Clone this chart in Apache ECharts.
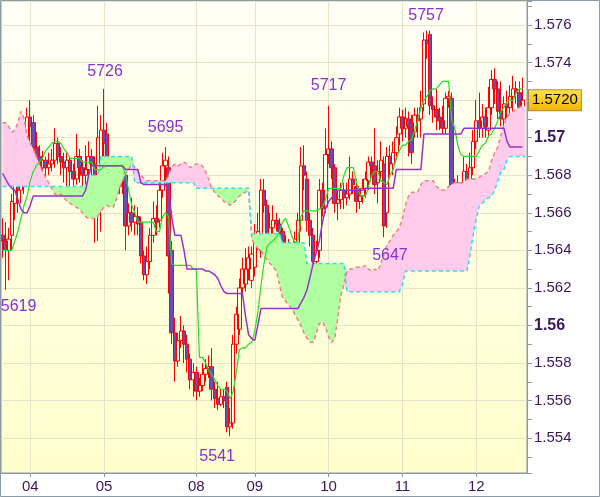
<!DOCTYPE html>
<html><head><meta charset="utf-8">
<script src="https://cdn.jsdelivr.net/npm/echarts@6/dist/echarts.min.js"></script>
<style>html,body{margin:0;padding:0;background:#fff}#c{width:600px;height:497px}</style>
</head><body><div id="c"></div>
<script>
// ---- data (hourly candles) ----
const dayLabels = ['04','05','08','09','10','11','12'];
const dayStartIndex = [9,33,63,82,106,130,154];

const opens = [
1.5648,1.5645,1.5640,1.5648,1.5665,1.5675,1.5672,1.5686,1.5684,1.5711,
1.5708,1.5695,1.5690,1.5684,1.5688,1.5684,1.5686,1.5688,1.5697,1.5690,
1.5687,1.5684,1.5688,1.5682,1.5678,1.5690,1.5684,1.5680,1.5683,1.5690,
1.5686,1.5665,1.5682,1.5704,1.5702,1.5682,1.5675,1.5678,1.5674,1.5679,
1.5680,1.5653,1.5660,1.5655,1.5658,1.5655,1.5637,1.5627,1.5634,1.5648,
1.5657,1.5656,1.5672,1.5685,1.5684,1.5640,1.5596,1.5581,1.5592,1.5597,
1.5590,1.5582,1.5571,1.5575,1.5565,1.5568,1.5574,1.5577,1.5578,1.5566,
1.5561,1.5558,1.5562,1.5567,1.5546,1.5548,1.5590,1.5598,1.5620,1.5622,
1.5630,1.5624,1.5631,1.5646,1.5640,1.5672,1.5664,1.5645,1.5652,1.5656,
1.5654,1.5650,1.5641,1.5642,1.5629,1.5644,1.5644,1.5656,1.5685,1.5678,
1.5656,1.5648,1.5634,1.5640,1.5672,1.5663,1.5691,1.5694,1.5684,1.5665,
1.5667,1.5672,1.5668,1.5670,1.5678,1.5674,1.5666,1.5669,1.5673,1.5677,
1.5687,1.5685,1.5676,1.5682,1.5686,1.5660,1.5690,1.5686,1.5692,1.5702,
1.5711,1.5705,1.5710,1.5708,1.5703,1.5712,1.5710,1.5718,1.5752,1.5755,
1.5717,1.5715,1.5711,1.5709,1.5705,1.5721,1.5721,1.5674,1.5676,1.5661,
1.5668,1.5682,1.5668,1.5684,1.5698,1.5709,1.5705,1.5711,1.5704,1.5716,
1.5731,1.5726,1.5714,1.5710,1.5718,1.5716,1.5722,1.5726,1.5724,1.5716];

const closes = [
1.5645,1.5640,1.5646,1.5666,1.5675,1.5672,1.5686,1.5684,1.5711,1.5706,
1.5695,1.5690,1.5684,1.5688,1.5684,1.5686,1.5688,1.5697,1.5690,1.5687,
1.5684,1.5688,1.5682,1.5678,1.5690,1.5684,1.5680,1.5683,1.5690,1.5686,
1.5660,1.5700,1.5704,1.5697,1.5682,1.5675,1.5678,1.5674,1.5679,1.5676,
1.5653,1.5660,1.5655,1.5658,1.5654,1.5637,1.5627,1.5634,1.5648,1.5657,
1.5655,1.5672,1.5685,1.5688,1.5637,1.5596,1.5581,1.5592,1.5597,1.5590,
1.5582,1.5571,1.5575,1.5565,1.5568,1.5574,1.5577,1.5578,1.5566,1.5561,
1.5558,1.5562,1.5560,1.5546,1.5548,1.5590,1.5606,1.5620,1.5630,1.5630,
1.5636,1.5638,1.5646,1.5650,1.5672,1.5664,1.5645,1.5652,1.5656,1.5654,
1.5650,1.5641,1.5642,1.5629,1.5640,1.5646,1.5656,1.5685,1.5680,1.5656,
1.5648,1.5634,1.5640,1.5672,1.5662,1.5691,1.5694,1.5684,1.5665,1.5667,
1.5672,1.5668,1.5670,1.5678,1.5675,1.5666,1.5669,1.5673,1.5678,1.5687,
1.5685,1.5675,1.5682,1.5688,1.5653,1.5690,1.5686,1.5692,1.5700,1.5711,
1.5705,1.5710,1.5706,1.5692,1.5712,1.5709,1.5716,1.5752,1.5750,1.5717,
1.5715,1.5711,1.5709,1.5705,1.5721,1.5722,1.5674,1.5665,1.5661,1.5668,
1.5682,1.5668,1.5684,1.5698,1.5709,1.5705,1.5711,1.5706,1.5716,1.5731,
1.5726,1.5714,1.5710,1.5718,1.5716,1.5722,1.5726,1.5724,1.5716,1.5720];

const lows = [
1.5636,1.5619,1.5624,1.5640,1.5656,1.5660,1.5665,1.5670,1.5680,1.5698,
1.5690,1.5680,1.5676,1.5678,1.5675,1.5680,1.5682,1.5684,1.5686,1.5680,
1.5676,1.5670,1.5667,1.5665,1.5675,1.5676,1.5672,1.5675,1.5678,1.5675,
1.5644,1.5645,1.5650,1.5690,1.5676,1.5666,1.5668,1.5668,1.5670,1.5670,
1.5640,1.5648,1.5650,1.5648,1.5648,1.5633,1.5624,1.5622,1.5630,1.5644,
1.5648,1.5652,1.5668,1.5676,1.5617,1.5590,1.5570,1.5578,1.5588,1.5580,
1.5575,1.5566,1.5562,1.5560,1.5562,1.5565,1.5570,1.5572,1.5560,1.5556,
1.5555,1.5557,1.5556,1.5543,1.5541,1.5545,1.5585,1.5595,1.5615,1.5618,
1.5624,1.5620,1.5626,1.5640,1.5636,1.5660,1.5642,1.5640,1.5648,1.5650,
1.5644,1.5638,1.5636,1.5625,1.5628,1.5638,1.5640,1.5650,1.5672,1.5650,
1.5642,1.5628,1.5630,1.5636,1.5658,1.5660,1.5686,1.5678,1.5660,1.5656,
1.5662,1.5662,1.5664,1.5667,1.5670,1.5660,1.5662,1.5665,1.5668,1.5672,
1.5680,1.5670,1.5665,1.5678,1.5647,1.5652,1.5680,1.5680,1.5688,1.5696,
1.5698,1.5700,1.5690,1.5686,1.5700,1.5700,1.5700,1.5714,1.5742,1.5712,
1.5708,1.5704,1.5704,1.5702,1.5702,1.5716,1.5670,1.5660,1.5652,1.5650,
1.5662,1.5660,1.5664,1.5680,1.5694,1.5700,1.5700,1.5700,1.5700,1.5712,
1.5718,1.5710,1.5706,1.5706,1.5710,1.5712,1.5714,1.5718,1.5712,1.5712];

const highs = [
1.5657,1.5655,1.5652,1.5670,1.5682,1.5685,1.5692,1.5698,1.5716,1.5720,
1.5712,1.5703,1.5696,1.5693,1.5690,1.5692,1.5694,1.5705,1.5700,1.5695,
1.5692,1.5692,1.5690,1.5686,1.5702,1.5694,1.5688,1.5696,1.5698,1.5694,
1.5690,1.5717,1.5712,1.5726,1.5708,1.5690,1.5684,1.5684,1.5686,1.5684,
1.5684,1.5665,1.5668,1.5664,1.5663,1.5658,1.5640,1.5642,1.5652,1.5666,
1.5664,1.5676,1.5692,1.5695,1.5690,1.5645,1.5604,1.5596,1.5605,1.5600,
1.5595,1.5585,1.5580,1.5578,1.5572,1.5580,1.5582,1.5584,1.5588,1.5570,
1.5570,1.5566,1.5566,1.5570,1.5556,1.5595,1.5610,1.5625,1.5636,1.5641,
1.5642,1.5642,1.5654,1.5660,1.5678,1.5678,1.5667,1.5660,1.5664,1.5660,
1.5657,1.5652,1.5648,1.5646,1.5644,1.5650,1.5660,1.5695,1.5696,1.5682,
1.5660,1.5652,1.5645,1.5678,1.5676,1.5705,1.5717,1.5698,1.5686,1.5672,
1.5676,1.5676,1.5676,1.5690,1.5682,1.5678,1.5673,1.5678,1.5682,1.5690,
1.5690,1.5705,1.5688,1.5698,1.5690,1.5695,1.5696,1.5698,1.5706,1.5716,
1.5715,1.5716,1.5714,1.5712,1.5716,1.5716,1.5725,1.5756,1.5757,1.5757,
1.5722,1.5726,1.5716,1.5717,1.5724,1.5725,1.5724,1.5678,1.5680,1.5676,
1.5690,1.5686,1.5692,1.5704,1.5720,1.5724,1.5718,1.5716,1.5727,1.5736,
1.5737,1.5730,1.5730,1.5722,1.5725,1.5728,1.5733,1.5730,1.5730,1.5732];

const tenkan = [
1.5640,1.5640,1.5640,1.5640,1.5645,1.5650,1.5657,1.5664,1.5669,1.5677,
1.5682,1.5685,1.5687,1.5689,1.5693,1.5695,1.5697,1.5698,1.5698,1.5697,
1.5694,1.5692,1.5689,1.5689,1.5689,1.5689,1.5687,1.5687,1.5687,1.5687,
1.5683,1.5683,1.5683,1.5685,1.5685,1.5685,1.5685,1.5685,1.5685,1.5685,
1.5680,1.5672,1.5664,1.5660,1.5655,1.5655,1.5655,1.5655,1.5655,1.5655,
1.5650,1.5650,1.5658,1.5660,1.5658,1.5633,1.5632,1.5632,1.5632,1.5632,
1.5632,1.5632,1.5630,1.5630,1.5583,1.5583,1.5580,1.5576,1.5574,1.5571,
1.5568,1.5566,1.5566,1.5565,1.5561,1.5565,1.5575,1.5587,1.5588,1.5588,
1.5590,1.5591,1.5597,1.5607,1.5621,1.5633,1.5642,1.5644,1.5645,1.5647,
1.5650,1.5655,1.5657,1.5653,1.5648,1.5644,1.5645,1.5658,1.5661,1.5661,
1.5661,1.5661,1.5661,1.5662,1.5663,1.5667,1.5673,1.5673,1.5673,1.5673,
1.5673,1.5680,1.5684,1.5684,1.5684,1.5677,1.5670,1.5669,1.5669,1.5674,
1.5680,1.5682,1.5682,1.5677,1.5676,1.5675,1.5680,1.5683,1.5689,1.5693,
1.5696,1.5696,1.5698,1.5699,1.5704,1.5709,1.5716,1.5720,1.5722,1.5725,
1.5726,1.5726,1.5728,1.5730,1.5730,1.5730,1.5710,1.5705,1.5696,1.5691,
1.5690,1.5690,1.5690,1.5690,1.5690,1.5693,1.5696,1.5697,1.5701,1.5702,
1.5705,1.5709,1.5714,1.5716,1.5719,1.5720,1.5720,1.5724,1.5726,1.5726];

const kijun = [
1.5681,1.5678,1.5675,1.5673,1.5672,1.5667,1.5662,1.5660,1.5660,1.5664,
1.5669,1.5669,1.5669,1.5669,1.5669,1.5669,1.5669,1.5669,1.5669,1.5669,
1.5669,1.5669,1.5669,1.5669,1.5669,1.5669,1.5669,1.5672,1.5680,1.5685,
1.5685,1.5685,1.5685,1.5685,1.5685,1.5685,1.5685,1.5685,1.5685,1.5685,
1.5683,1.5683,1.5683,1.5683,1.5683,1.5676,1.5675,1.5675,1.5675,1.5675,
1.5675,1.5675,1.5675,1.5675,1.5671,1.5658,1.5648,1.5648,1.5648,1.5640,
1.5630,1.5630,1.5630,1.5630,1.5630,1.5630,1.5629,1.5629,1.5628,1.5627,
1.5625,1.5621,1.5618,1.5617,1.5617,1.5617,1.5617,1.5617,1.5617,1.5605,
1.5595,1.5593,1.5592,1.5600,1.5609,1.5609,1.5609,1.5609,1.5609,1.5609,
1.5609,1.5609,1.5609,1.5609,1.5609,1.5609,1.5609,1.5612,1.5615,1.5619,
1.5626,1.5633,1.5639,1.5645,1.5655,1.5662,1.5666,1.5668,1.5670,1.5672,
1.5672,1.5672,1.5672,1.5672,1.5672,1.5672,1.5672,1.5672,1.5673,1.5673,
1.5673,1.5673,1.5673,1.5673,1.5673,1.5673,1.5673,1.5673,1.5683,1.5683,
1.5683,1.5683,1.5683,1.5683,1.5683,1.5683,1.5683,1.5702,1.5702,1.5702,
1.5702,1.5702,1.5702,1.5702,1.5702,1.5702,1.5702,1.5702,1.5702,1.5702,
1.5705,1.5705,1.5705,1.5705,1.5705,1.5705,1.5705,1.5705,1.5705,1.5705,
1.5705,1.5705,1.5705,1.5705,1.5698,1.5695,1.5695,1.5695,1.5695,1.5695];

const spanA = [
1.5708,1.5708,1.5706,1.5703,1.5704,1.5708,1.5714,1.5710,1.5701,1.5697,
1.5694,1.5690,1.5686,1.5682,1.5679,1.5676,1.5673,1.5670,1.5669,1.5670,
1.5668,1.5666,1.5665,1.5664,1.5663,1.5662,1.5660,1.5658,1.5657,1.5657,
1.5657,1.5658,1.5661,1.5663,1.5664,1.5663,1.5663,1.5667,1.5673,1.5677,
1.5681,1.5683,1.5686,1.5684,1.5682,1.5680,1.5678,1.5677,1.5677,1.5677,
1.5677,1.5677,1.5677,1.5677,1.5680,1.5684,1.5686,1.5685,1.5686,1.5687,
1.5686,1.5684,1.5685,1.5686,1.5686,1.5685,1.5682,1.5678,1.5673,1.5671,
1.5669,1.5668,1.5666,1.5665,1.5664,1.5665,1.5667,1.5669,1.5670,1.5671,
1.5672,1.5646,1.5643,1.5641,1.5640,1.5637,1.5635,1.5633,1.5631,1.5629,
1.5622,1.5615,1.5613,1.5611,1.5609,1.5606,1.5603,1.5600,1.5596,1.5593,
1.5591,1.5591,1.5596,1.5601,1.5602,1.5599,1.5594,1.5591,1.5593,1.5604,
1.5616,1.5622,1.5629,1.5630,1.5630,1.5631,1.5631,1.5631,1.5632,1.5630,
1.5629,1.5630,1.5629,1.5633,1.5638,1.5643,1.5645,1.5648,1.5650,1.5652,
1.5657,1.5664,1.5669,1.5671,1.5671,1.5671,1.5675,1.5677,1.5677,1.5677,
1.5677,1.5674,1.5673,1.5672,1.5672,1.5674,1.5675,1.5676,1.5676,1.5676,
1.5676,1.5678,1.5678,1.5678,1.5678,1.5679,1.5680,1.5681,1.5682,1.5688,
1.5692,1.5695,1.5701,1.5707,1.5711,1.5713,1.5714,1.5715,1.5716,1.5717,
1.5717];

const spanB = [
1.5674,1.5674,1.5674,1.5674,1.5674,1.5674,1.5674,1.5674,1.5674,1.5674,
1.5674,1.5674,1.5674,1.5674,1.5674,1.5674,1.5674,1.5674,1.5674,1.5674,
1.5674,1.5674,1.5674,1.5674,1.5674,1.5674,1.5674,1.5674,1.5680,1.5680,
1.5680,1.5680,1.5690,1.5690,1.5690,1.5690,1.5690,1.5690,1.5690,1.5690,
1.5690,1.5690,1.5690,1.5676,1.5676,1.5676,1.5676,1.5676,1.5676,1.5676,
1.5676,1.5676,1.5676,1.5676,1.5676,1.5676,1.5676,1.5676,1.5676,1.5676,
1.5676,1.5676,1.5676,1.5673,1.5673,1.5673,1.5673,1.5673,1.5673,1.5673,
1.5673,1.5673,1.5673,1.5673,1.5673,1.5673,1.5673,1.5673,1.5673,1.5673,
1.5673,1.5649,1.5649,1.5649,1.5649,1.5649,1.5649,1.5649,1.5649,1.5649,
1.5649,1.5644,1.5644,1.5644,1.5644,1.5644,1.5644,1.5644,1.5644,1.5633,
1.5633,1.5633,1.5633,1.5633,1.5633,1.5633,1.5633,1.5633,1.5633,1.5633,
1.5633,1.5633,1.5618,1.5618,1.5618,1.5618,1.5618,1.5618,1.5618,1.5618,
1.5618,1.5618,1.5618,1.5618,1.5618,1.5618,1.5618,1.5618,1.5618,1.5618,
1.5622,1.5629,1.5629,1.5629,1.5629,1.5629,1.5629,1.5629,1.5629,1.5629,
1.5629,1.5629,1.5629,1.5629,1.5629,1.5629,1.5629,1.5629,1.5629,1.5629,
1.5629,1.5629,1.5638,1.5648,1.5657,1.5664,1.5665,1.5667,1.5668,1.5669,
1.5672,1.5677,1.5682,1.5683,1.5688,1.5690,1.5690,1.5690,1.5690,1.5690,
1.5690];

// annotated swing highs / lows (candle indices)
const peakIndex = [138, 33, 53, 106];
const troughIndex = [1, 74, 124];

// ---- build ----
const categories = spanA.map((_, i) => String(i));
const candleData = opens.map((o, i) => [o, closes[i], lows[i], highs[i]]);
const cloudBase = spanA.map((a, i) => Math.min(a, spanB[i]));
const cloudUp = spanA.map((a, i) => Math.max(a - spanB[i], 0));
const cloudDown = spanA.map((a, i) => Math.max(spanB[i] - a, 0));
const lastClose = closes[closes.length - 1];
const isDay = (i) => dayStartIndex.indexOf(i) >= 0;
const shortPrice = (v) => String(Math.round(v * 10000)).slice(1);

const FONT = 'Arial, "Liberation Sans", sans-serif';
const AXIS_TXT = '#3c1460';
const GRIDC = '#e4e4c9';
const AXISC = '#8b9aa5';
const NOTE = '#8b2fd6';

const peakOffsets = [[-1, -15], [1, -17], [0, -19], [0, -20]];
const troughOffsets = [[13, 17], [-13, 20], [6, 18]];
const notePoints = [];
peakIndex.forEach((idx, k) => notePoints.push({ coord: [idx, highs[idx]], txt: shortPrice(highs[idx]), off: peakOffsets[k] }));
troughIndex.forEach((idx, k) => notePoints.push({ coord: [idx, lows[idx]], txt: shortPrice(lows[idx]), off: troughOffsets[k] }));

const chart = echarts.init(document.getElementById('c'), null, { renderer: 'canvas' });
const option = {
  animation: false,
  backgroundColor: '#ffffff',
  textStyle: { fontFamily: FONT },
  grid: {
    left: 1, right: 73, top: 1, bottom: 24,
    show: true,
    borderColor: AXISC, borderWidth: 1,
    backgroundColor: { type: 'linear', x: 0, y: 0, x2: 0, y2: 1,
      colorStops: [{ offset: 0, color: '#fffff7' }, { offset: 1, color: '#ffffcc' }] }
  },
  xAxis: {
    type: 'category', data: categories, boundaryGap: true,
    axisLine: { lineStyle: { color: AXISC, width: 1 } },
    axisTick: { show: true, interval: (i) => isDay(i), alignWithLabel: true, length: 4, lineStyle: { color: AXISC } },
    axisLabel: { interval: (i) => isDay(i), formatter: (v, i) => { const k = dayStartIndex.indexOf(i); return k >= 0 ? dayLabels[k] : ''; },
      color: AXIS_TXT, fontSize: 15, margin: 6, fontFamily: FONT },
    splitLine: { show: true, interval: (i) => isDay(i), alignWithLabel: true, lineStyle: { color: GRIDC, width: 1 } }
  },
  yAxis: {
    type: 'value', position: 'right', min: 1.55214, max: 1.57728, splitNumber: 12,
    axisLine: { show: true, lineStyle: { color: AXISC, width: 1 } },
    axisTick: { show: true, length: 5, lineStyle: { color: AXISC } },
    minorTick: { show: true, splitNumber: 2, length: 5, lineStyle: { color: AXISC } },
    splitLine: { show: true, lineStyle: { color: GRIDC, width: 1 } },
    axisLabel: {
      color: AXIS_TXT, fontSize: 15, margin: 7, fontFamily: FONT,
      formatter: (v) => {
        const r = Math.round(v * 1000);
        if (Math.abs(v * 1000 - r) > 1e-6) return '';
        if (r === 1572) return '';
        if (r % 10 === 0) return '{b|' + (r / 1000).toFixed(2) + '}';
        return (r / 1000).toFixed(3);
      },
      rich: { b: { fontWeight: 'bold', fontSize: 16, color: AXIS_TXT, fontFamily: FONT } }
    }
  },
  series: [
    { name: 'cloudBase', type: 'line', data: cloudBase, stack: 'cloud', symbol: 'none', lineStyle: { width: 0, opacity: 0 }, silent: true },
    { name: 'cloudUp', type: 'line', data: cloudUp, stack: 'cloud', symbol: 'none', lineStyle: { width: 0, opacity: 0 },
      areaStyle: { color: '#ffccec', opacity: 1 }, silent: true },
    { name: 'cloudDown', type: 'line', data: cloudDown, stack: 'cloud', symbol: 'none', lineStyle: { width: 0, opacity: 0 },
      areaStyle: { color: '#b2ffa2', opacity: 1 }, silent: true },
    { name: 'Senkou A', type: 'line', data: spanA, symbol: 'none', lineStyle: { color: '#f28080', width: 1.5, type: [4, 3] } },
    { name: 'Senkou B', type: 'line', data: spanB, symbol: 'none', lineStyle: { color: '#2ee0ee', width: 1.5, type: [4, 3] } },
    {
      name: 'EURUSD', type: 'candlestick', data: candleData, barWidth: 4,
      itemStyle: { color: 'rgba(255,255,255,0)', color0: '#6c4bb4', borderColor: '#ff0000', borderColor0: '#ff0000', borderWidth: 1 },
      markPoint: {
        silent: true,
        data: notePoints.map(p => ({
          coord: p.coord, value: p.txt, symbol: 'rect', symbolSize: 1,
          itemStyle: { color: 'rgba(0,0,0,0)' },
          label: { show: true, position: 'inside', offset: p.off, formatter: p.txt, color: NOTE, fontSize: 16, fontFamily: FONT }
        }))
      }
    },
    { name: 'Tenkan', type: 'line', data: tenkan, symbol: 'none', lineStyle: { color: '#22dd22', width: 1.2 } },
    { name: 'Kijun', type: 'line', data: kijun, symbol: 'none', lineStyle: { color: '#9932cc', width: 1.5 },
      markLine: {
        silent: true, symbol: 'none', animation: false, precision: 4,
        data: [{ yAxis: lastClose }],
        lineStyle: { color: 'rgba(0,0,0,0)', width: 0 },
        label: {
          show: true, position: 'end', distance: 2, formatter: () => lastClose.toFixed(4),
          color: '#000', fontSize: 15, fontFamily: FONT, padding: [3, 3, 2, 3],
          backgroundColor: { type: 'linear', x: 0, y: 0, x2: 0, y2: 1,
            colorStops: [{ offset: 0, color: '#ffe44a' }, { offset: 1, color: '#f2b400' }] },
          borderColor: '#a88a50', borderWidth: 1
        }
      }
    }
  ],
  graphic: [{ type: 'rect', z: 100, silent: true, shape: { x: 0.5, y: 0.5, width: 599, height: 496 },
    style: { fill: 'none', stroke: AXISC, lineWidth: 1 } }]
};
chart.setOption(option);
</script>
</body></html>
